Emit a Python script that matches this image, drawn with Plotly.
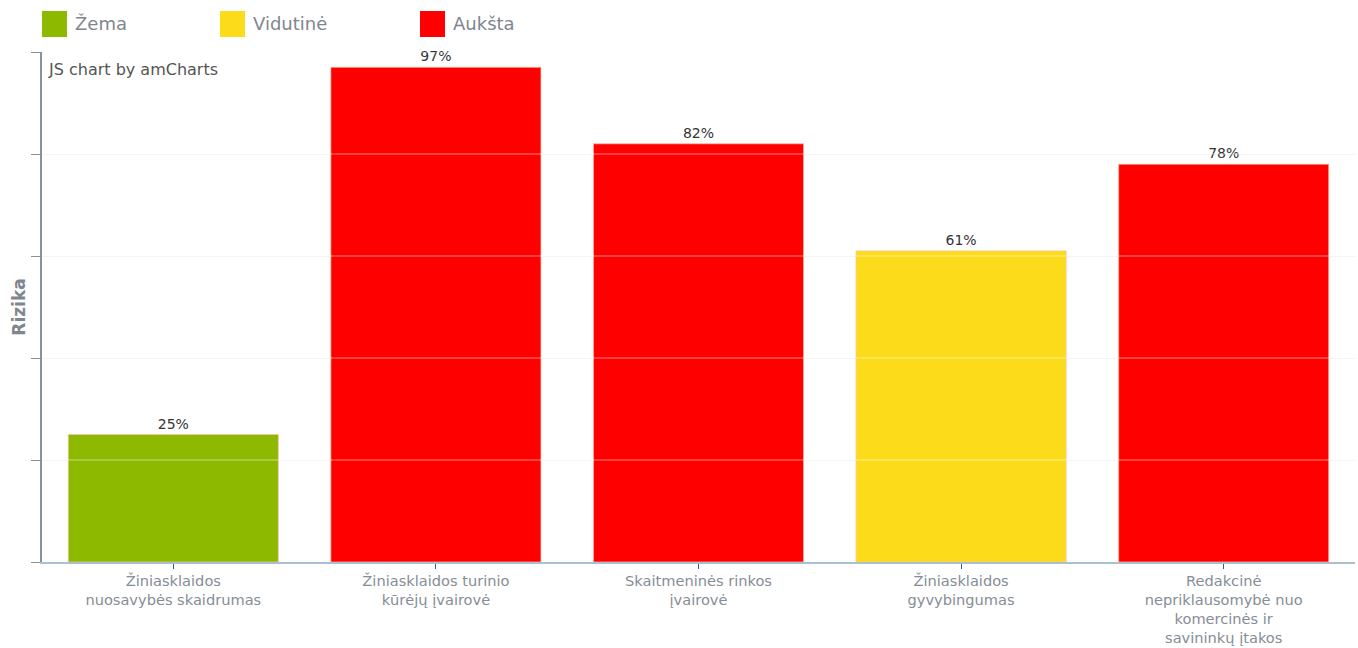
import plotly.graph_objects as go

categories = [
    "Žiniasklaidos<br>nuosavybės skaidrumas",
    "Žiniasklaidos turinio<br>kūrėjų įvairovė",
    "Skaitmeninės rinkos<br>įvairovė",
    "Žiniasklaidos<br>gyvybingumas",
    "Redakcinė<br>nepriklausomybė nuo<br>komercinės ir<br>savininkų įtakos",
]
values = [25, 97, 82, 61, 78]
levels = ["Žema", "Aukšta", "Aukšta", "Vidutinė", "Aukšta"]
level_names = ["Žema", "Vidutinė", "Aukšta"]
level_colors = {"Žema": "#8DBA00", "Vidutinė": "#FCDC1A", "Aukšta": "#FF0000"}
y_ticks = [0, 20, 40, 60, 80, 100]

FONT = "Verdana, DejaVu Sans, sans-serif"

W, H = 1358, 648
L, R, T, B = 42, 3, 52, 86
PW, PH = W - L - R, H - T - B


def px_x(x):
    return (x - L) / PW


def px_y(y):
    return (H - B - y) / PH


fig = go.Figure()
fig.add_trace(go.Bar(
    x=list(range(len(categories))),
    y=values,
    marker=dict(color=[level_colors[l] for l in levels],
                line=dict(color="rgba(255,190,160,0.7)", width=1)),
    width=0.8,
    text=[f"{v}%" for v in values],
    textposition="outside",
    constraintext="none",
    textfont=dict(color="#333333", size=14, family=FONT),
    cliponaxis=False,
    showlegend=False,
    hoverinfo="skip",
))

# gridlines drawn above bars
for t in y_ticks[1:]:
    fig.add_shape(type="line", xref="paper", yref="y", x0=0, x1=1, y0=t, y1=t,
                  line=dict(color="rgba(255,255,255,0.5)", width=1), layer="above")

# custom legend
leg_x = [42, 220, 420]
for name, x0 in zip(level_names, leg_x):
    fig.add_shape(type="rect", xref="paper", yref="paper",
                  x0=px_x(x0), x1=px_x(x0 + 25),
                  y0=px_y(37), y1=px_y(11),
                  fillcolor=level_colors[name], line=dict(width=0))
    fig.add_annotation(xref="paper", yref="paper", x=px_x(x0 + 31),
                       y=px_y(24), text=name, showarrow=False,
                       xanchor="left", yanchor="middle",
                       font=dict(size=18, color="#7F868E", family=FONT))

fig.add_annotation(xref="paper", yref="paper", x=px_x(46), y=px_y(69),
                   text="JS chart by amCharts", showarrow=False, xanchor="left",
                   yanchor="middle", font=dict(size=16, color="#555555", family=FONT))

fig.update_layout(
    width=W, height=H,
    margin=dict(l=L, r=R, t=T, b=B, autoexpand=False),
    paper_bgcolor="white", plot_bgcolor="white",
    font=dict(family=FONT),
    bargap=0.2,
    xaxis=dict(
        tickmode="array", tickvals=list(range(len(categories))), ticktext=categories,
        range=[-0.5, len(categories) - 0.5],
        tickson="boundaries", ticks="outside", ticklen=5, tickcolor="#2F5F8A",
        showline=True, linecolor="#A9BFD2", linewidth=1.5,
        showgrid=False, automargin=False,
        tickfont=dict(size=14.6, color="#858D96", family=FONT),
    ),
    yaxis=dict(
        range=[0, 100], tickmode="array", tickvals=y_ticks, showticklabels=False,
        ticks="outside", ticklen=9, tickcolor="#8593A0",
        showline=True, linecolor="#8593A0", linewidth=1.5,
        showgrid=True, gridcolor="rgba(235,235,235,0.7)", zeroline=False,
        automargin=False,
        title=dict(text="<b>Rizika</b>", standoff=1,
                   font=dict(size=17, color="#7F868E", family=FONT)),
    ),
)

fig.write_html("out.html", config={"displayModeBar": False},
               post_script="document.body.style.margin='0px';document.body.style.overflow='hidden';")
